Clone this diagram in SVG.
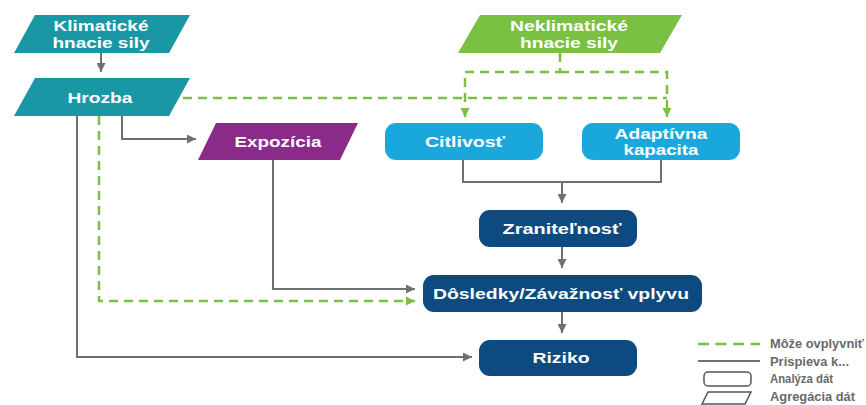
<svg xmlns="http://www.w3.org/2000/svg" width="866" height="405" viewBox="0 0 866 405">
  <defs>
    <style>
      .lbl { font-family: "Liberation Sans", Arial, sans-serif; font-weight: bold; font-size: 15px; fill: #ffffff; text-anchor: middle; }
      .leg { font-family: "Liberation Sans", Arial, sans-serif; font-weight: bold; font-size: 12px; fill: #6a6a6a; }
      .solid { fill: none; stroke: #707070; stroke-width: 2; }
      .dash { fill: none; stroke: #7ac143; stroke-width: 2.5; stroke-dasharray: 9 6; }
    </style>
    <marker id="arrGrey" viewBox="0 0 10 10" refX="10" refY="5" markerWidth="4.5" markerHeight="4.5" orient="auto" markerUnits="strokeWidth">
      <path d="M0,0 L10,5 L0,10 Z" fill="#707070"/>
    </marker>
    <marker id="arrGreen" viewBox="0 0 10 10" refX="10" refY="5" markerWidth="3.8" markerHeight="3.8" orient="auto" markerUnits="strokeWidth">
      <path d="M0,0 L10,5 L0,10 Z" fill="#7ac143"/>
    </marker>
  </defs>

  <rect width="866" height="405" fill="#ffffff"/>

  <!-- connectors -->
  <g id="connectors">
    <!-- solid: contributes to -->
    <path class="solid" d="M101,53 V72" marker-end="url(#arrGrey)"/>
    <path class="solid" d="M122,116 V139 H196" marker-end="url(#arrGrey)"/>
    <path class="solid" d="M273,160 V289 H415" marker-end="url(#arrGrey)"/>
    <path class="solid" d="M77,116 V357 H472" marker-end="url(#arrGrey)"/>
    <path class="solid" d="M463,160 V182 H661 V160"/>
    <path class="solid" d="M562,182 V203" marker-end="url(#arrGrey)"/>
    <path class="solid" d="M562,247 V268" marker-end="url(#arrGrey)"/>
    <path class="solid" d="M562,312 V333" marker-end="url(#arrGrey)"/>
    <!-- dashed: may influence -->
    <path class="dash" d="M183,98 H667"/>
    <path class="dash" d="M560,53 V72 H465 V117" marker-end="url(#arrGreen)"/>
    <path class="dash" d="M560,72 H667 V117" marker-end="url(#arrGreen)"/>
    <path class="dash" d="M99,116 V301 H415" marker-end="url(#arrGreen)"/>
  </g>

  <!-- nodes -->
  <g id="klimaticke">
    <polygon points="35,15 190,15 169,53 14,53" fill="#1a97a4"/>
    <text class="lbl" x="101" y="31" textLength="95" lengthAdjust="spacingAndGlyphs">Klimatické</text>
    <text class="lbl" x="101" y="48" textLength="97" lengthAdjust="spacingAndGlyphs">hnacie sily</text>
  </g>

  <g id="hrozba">
    <polygon points="35,78 190,78 169,116 14,116" fill="#1a97a4"/>
    <text class="lbl" x="100" y="103" textLength="65" lengthAdjust="spacingAndGlyphs">Hrozba</text>
  </g>

  <g id="neklimaticke">
    <polygon points="480,15 682,15 660,53 458,53" fill="#7ac143"/>
    <text class="lbl" x="569" y="31" textLength="118" lengthAdjust="spacingAndGlyphs">Neklimatické</text>
    <text class="lbl" x="569" y="48" textLength="98" lengthAdjust="spacingAndGlyphs">hnacie sily</text>
  </g>

  <g id="expozicia">
    <polygon points="216,123 358,123 340,160 198,160" fill="#8b2a88"/>
    <text class="lbl" x="278" y="147" textLength="87" lengthAdjust="spacingAndGlyphs">Expozícia</text>
  </g>

  <g id="citlivost">
    <rect x="385" y="123" width="158" height="37" rx="11" fill="#1aa7dc"/>
    <text class="lbl" x="465" y="147" textLength="80" lengthAdjust="spacingAndGlyphs">Citlivosť</text>
  </g>

  <g id="adaptivna">
    <rect x="582" y="123" width="158" height="37" rx="11" fill="#1aa7dc"/>
    <text class="lbl" x="661" y="139" textLength="93" lengthAdjust="spacingAndGlyphs">Adaptívna</text>
    <text class="lbl" x="661" y="155" textLength="75" lengthAdjust="spacingAndGlyphs">kapacita</text>
  </g>

  <g id="zranitelnost">
    <rect x="479" y="210" width="158" height="37" rx="11" fill="#0d4a7f"/>
    <text class="lbl" x="562" y="234" textLength="119" lengthAdjust="spacingAndGlyphs">Zraniteľnosť</text>
  </g>

  <g id="dosledky">
    <rect x="423" y="275" width="279" height="37" rx="11" fill="#0d4a7f"/>
    <text class="lbl" x="561" y="299" textLength="256" lengthAdjust="spacingAndGlyphs">Dôsledky/Závažnosť vplyvu</text>
  </g>

  <g id="riziko">
    <rect x="479" y="340" width="158" height="36" rx="11" fill="#0d4a7f"/>
    <text class="lbl" x="561" y="363" textLength="57" lengthAdjust="spacingAndGlyphs">Riziko</text>
  </g>

  <!-- legend -->
  <g id="legend">
    <line x1="698" y1="344" x2="760" y2="344" stroke="#7ac143" stroke-width="2.5" stroke-dasharray="11 6.5"/>
    <text class="leg" x="770" y="348" textLength="94" lengthAdjust="spacingAndGlyphs">Môže ovplyvniť</text>
    <line x1="698" y1="361" x2="760" y2="361" stroke="#707070" stroke-width="2"/>
    <text class="leg" x="770" y="366" textLength="79" lengthAdjust="spacingAndGlyphs">Prispieva k...</text>
    <rect x="704" y="372" width="47" height="14" rx="4" fill="none" stroke="#555555" stroke-width="1.5"/>
    <text class="leg" x="770" y="383" textLength="63" lengthAdjust="spacingAndGlyphs">Analýza dát</text>
    <polygon points="708,392 751,392 745,404 702,404" fill="none" stroke="#555555" stroke-width="1.5"/>
    <text class="leg" x="770" y="401" textLength="85" lengthAdjust="spacingAndGlyphs">Agregácia dát</text>
  </g>
</svg>
